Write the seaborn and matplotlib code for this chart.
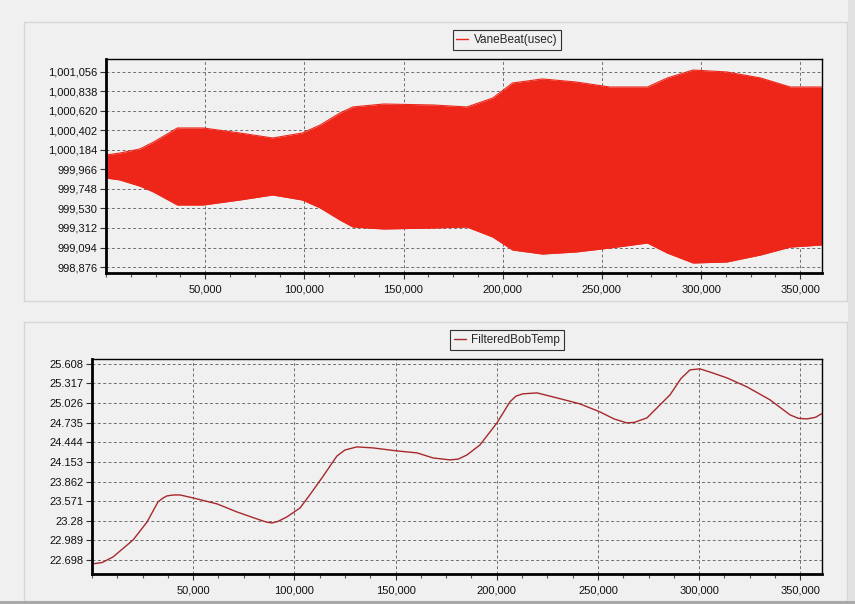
import seaborn as sns
import matplotlib.pyplot as plt
import matplotlib.ticker as mticker
from matplotlib.patches import Rectangle
from matplotlib.lines import Line2D
import pandas as pd

# VaneBeat(usec): dense oscillation, kept as its upper / lower envelope
beat_x = [0, 7000, 17000, 24000, 36000, 49000, 67500, 84000, 99000, 108000,
          118000, 124500, 140000, 165000, 182000, 195000, 205000, 220000,
          237000, 254000, 273000, 283000, 296000, 313000, 330000, 345000, 361000]
beat_hi = [1000128, 1000150, 1000195, 1000273, 1000430, 1000430, 1000374,
           1000318, 1000374, 1000463, 1000598, 1000665, 1000698, 1000687,
           1000665, 1000765, 1000933, 1000978, 1000944, 1000888, 1000888,
           1000989, 1001078, 1001056, 1000989, 1000888, 1000888]
beat_lo = [999871, 999849, 999781, 999714, 999569, 999569, 999625, 999681,
           999625, 999536, 999401, 999323, 999301, 999312, 999323, 999211,
           999066, 999021, 999044, 999088, 999144, 999032, 998921, 998932,
           999010, 999099, 999122]
beat_ticks = [998876, 999094, 999312, 999530, 999748, 999966, 1000184,
              1000402, 1000620, 1000838, 1001056]

# FilteredBobTemp
temp_x = [0, 5000, 10400, 20300, 27200, 32600, 35000, 37000, 40000, 43500,
          49900, 61800, 71600, 81500, 86000, 88900, 92000, 96300, 102800,
          108000, 113600, 121000, 125000, 130900, 138800, 150700, 160600,
          168500, 176900, 181000, 185300, 191700, 200100, 206500, 209500,
          212900, 219900, 229700, 241100, 251000, 258000, 264300, 268000,
          274200, 285600, 291000, 295500, 300400, 306000, 313700, 323600,
          335000, 344900, 349000, 353300, 357500, 361200]
temp_y = [22.639, 22.660, 22.743, 22.995, 23.262, 23.559, 23.615, 23.648,
          23.662, 23.663, 23.619, 23.530, 23.411, 23.307, 23.262, 23.247,
          23.272, 23.337, 23.470, 23.680, 23.915, 24.240, 24.330, 24.376,
          24.361, 24.316, 24.287, 24.212, 24.183, 24.195, 24.257, 24.405,
          24.732, 25.044, 25.130, 25.163, 25.177, 25.103, 25.014, 24.895,
          24.790, 24.732, 24.740, 24.806, 25.148, 25.390, 25.519, 25.534,
          25.480, 25.400, 25.267, 25.074, 24.851, 24.800, 24.791, 24.815,
          24.880]
temp_ticks = [22.698, 22.989, 23.28, 23.571, 23.862, 24.153, 24.444, 24.735,
              25.026, 25.317, 25.608]
temp_labels = ["22.698", "22.989", "23.28", "23.571", "23.862", "24.153",
               "24.444", "24.735", "25.026", "25.317", "25.608"]

x_ticks = [50000, 100000, 150000, 200000, 250000, 300000, 350000]

beat = pd.DataFrame({"x": beat_x, "hi": beat_hi, "lo": beat_lo})
temp = pd.DataFrame({"x": temp_x, "y": temp_y})

sns.set_theme(style="ticks")
plt.rcParams["font.family"] = ["Liberation Sans", "DejaVu Sans"]
plt.rcParams["font.size"] = 8

BG = "#f0f0f0"
RED = "#ee2619"
DARKRED = "#a8282c"

fig = plt.figure(figsize=(8.55, 6.04), dpi=100, facecolor=BG)

# window panels behind the two charts
for y0 in (1 - 301 / 604, 1 - 601 / 604):
    fig.patches.append(Rectangle((24 / 855, y0), 823 / 855, 279 / 604,
                                 transform=fig.transFigure, facecolor=BG,
                                 edgecolor="#d6d6d6", lw=1, zorder=-10))
fig.patches.append(Rectangle((848 / 855, 0), 7 / 855, 1, transform=fig.transFigure,
                             facecolor="#e2e2e2", edgecolor="none", zorder=-10))
fig.patches.append(Rectangle((0, 0), 1, 3 / 604, transform=fig.transFigure,
                             facecolor="#a9a9a9", edgecolor="none", zorder=-10))

ax1 = fig.add_axes([106 / 855, 1 - 273 / 604, (822 - 106) / 855, (273 - 59) / 604])
ax2 = fig.add_axes([92 / 855, 1 - 574 / 604, (822 - 92) / 855, (574 - 359) / 604])

# top: filled envelope
ax1.fill_between(beat["x"], beat["lo"], beat["hi"], color=RED, lw=0, zorder=2)
sns.lineplot(beat, x="x", y="hi", ax=ax1, color=RED, lw=0.8, zorder=2)
sns.lineplot(beat, x="x", y="lo", ax=ax1, color=RED, lw=0.8, zorder=2)
ax1.set_xlim(0, 361000)
ax1.set_ylim(998809, 1001201)
ax1.set_yticks(beat_ticks)
ax1.yaxis.set_major_formatter(mticker.FuncFormatter(lambda v, p: f"{v:,.0f}"))

# bottom: temperature line
sns.lineplot(temp, x="x", y="y", ax=ax2, color=DARKRED, lw=1.0, zorder=2)
ax2.set_xlim(0, 360700)
ax2.set_ylim(22.49, 25.68)
ax2.set_yticks(temp_ticks)
ax2.set_yticklabels(temp_labels)

for ax, name, col, ly in ((ax1, "VaneBeat(usec)", RED, 40), (ax2, "FilteredBobTemp", DARKRED, 340)):
    ax.set_facecolor(BG)
    ax.set_xticks(x_ticks)
    ax.xaxis.set_major_formatter(mticker.FuncFormatter(lambda v, p: f"{v:,.0f}"))
    ax.xaxis.set_minor_locator(mticker.MultipleLocator(12500))
    ax.grid(True, which="major", color="#6e6e6e", lw=0.7, ls=(0, (3, 2.5)), zorder=1)
    ax.set_axisbelow(True)
    ax.set_xlabel("")
    ax.set_ylabel("")
    ax.tick_params(axis="both", which="major", direction="out", length=4,
                   width=0.8, color="#333333", labelsize=8, pad=2, labelcolor="#111111")
    ax.tick_params(axis="x", which="minor", direction="out", length=3,
                   width=0.8, color="#555555")
    ax.tick_params(axis="x", which="major", pad=4)
    for s in ("left", "bottom"):
        ax.spines[s].set_linewidth(2.0)
        ax.spines[s].set_color("black")
    for s in ("top", "right"):
        ax.spines[s].set_linewidth(1.0)
        ax.spines[s].set_color("black")
    handle = Line2D([], [], color=col, lw=1.0)
    leg = fig.legend([handle], [name], loc="center",
                     bbox_to_anchor=(507 / 855, 1 - ly / 604),
                     frameon=True, fancybox=False, handlelength=1.0,
                     handletextpad=0.5, borderpad=0.3, fontsize=8.5)
    leg.get_frame().set_edgecolor("black")
    leg.get_frame().set_linewidth(0.8)
    leg.get_frame().set_facecolor(BG)

plt.savefig("out.png", dpi=100, facecolor=BG)
